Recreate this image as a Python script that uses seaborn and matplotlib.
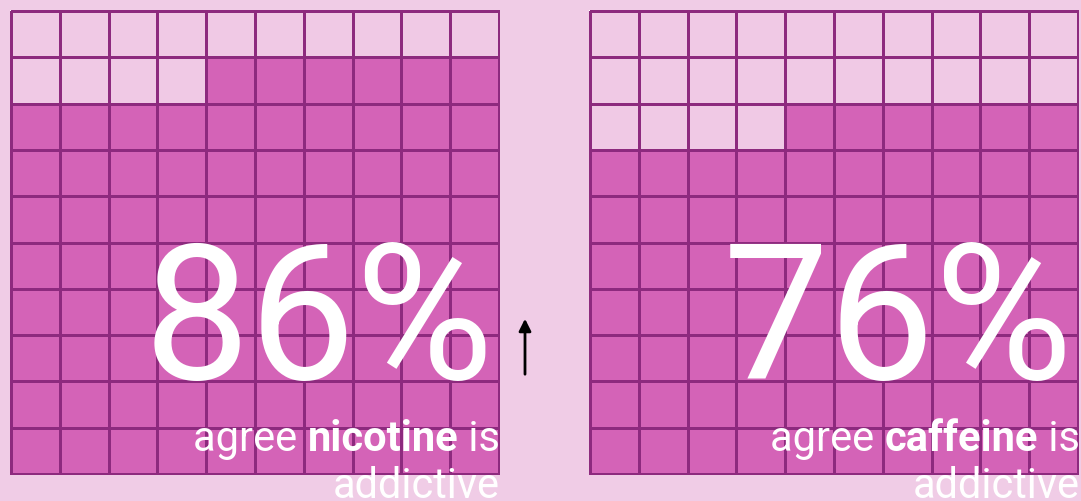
import numpy as np
import pandas as pd
import matplotlib
matplotlib.use("Agg")
import matplotlib.pyplot as plt
import seaborn as sns

# ---- data ----
substances = ["nicotine", "caffeine"]
agree_pct = [86, 76]
big_labels = ["86%", "76%"]
prefix_text = "agree "
suffix_text = " is"
second_line = "addictive"

BG = "#f0cce6"
LIGHT = "#f0c9e5"
DARK = "#d463b7"
LINE = "#8d2a7e"

sns.set_theme(style="white")
plt.rcParams["font.family"] = ["Roboto", "DejaVu Sans"]

W, H = 1081, 501
fig = plt.figure(figsize=(W / 100, H / 100), dpi=100, facecolor=BG)

def px_axes(x0, y0, x1, y1):
    return fig.add_axes([x0 / W, 1 - y1 / H, (x1 - x0) / W, (y1 - y0) / H])

grid_boxes = [(10, 10, 500, 475), (589, 10, 1079, 475)]

for pct, (x0, y0, x1, y1) in zip(agree_pct, grid_boxes):
    ax = px_axes(x0, y0, x1, y1)
    idx = np.arange(100).reshape(10, 10)
    mat = (idx >= 100 - pct).astype(int)
    df = pd.DataFrame(mat)
    sns.heatmap(df, ax=ax, cmap=matplotlib.colors.ListedColormap([LIGHT, DARK]),
                vmin=0, vmax=1, cbar=False, linewidths=2, linecolor=LINE,
                xticklabels=False, yticklabels=False)
    ax.set_xlim(-0.02, 10.02)
    ax.set_ylim(10.02, -0.02)
    for s in ax.spines.values():
        s.set_visible(False)

fig.canvas.draw()
renderer = fig.canvas.get_renderer()

def put(x, y, s, **kw):
    return fig.text(x / W, 1 - y / H, s, transform=fig.transFigure, **kw)

big_right = [494, 1074]
text_right = [500, 1080]
for i, (lab, sub) in enumerate(zip(big_labels, substances)):
    put(big_right[i], 379, lab, ha="right", va="baseline", color="white",
        fontsize=136, fontweight="normal")
    fs = 30
    t3 = put(text_right[i], 451, suffix_text, ha="right", va="baseline",
             color="white", fontsize=fs)
    fig.canvas.draw()
    bb = t3.get_window_extent(renderer)
    t2 = fig.text(bb.x0 / W, 1 - 451 / H, sub, ha="right", va="baseline",
                  color="white", fontsize=fs, fontweight="bold")
    fig.canvas.draw()
    bb2 = t2.get_window_extent(renderer)
    fig.text(bb2.x0 / W, 1 - 451 / H, prefix_text, ha="right", va="baseline",
             color="white", fontsize=fs)
    put(text_right[i], 498, second_line, ha="right", va="baseline",
        color="white", fontsize=fs)

# arrow between the panels
arrow_ax = fig.add_axes([0, 0, 1, 1], facecolor="none")
arrow_ax.set_xlim(0, W)
arrow_ax.set_ylim(H, 0)
arrow_ax.axis("off")
arrow_ax.annotate("", xy=(525, 316), xytext=(525, 377),
                  arrowprops=dict(arrowstyle="-|>", color="black", lw=2,
                                  mutation_scale=18))

fig.savefig("out.png", dpi=100, facecolor=BG)
